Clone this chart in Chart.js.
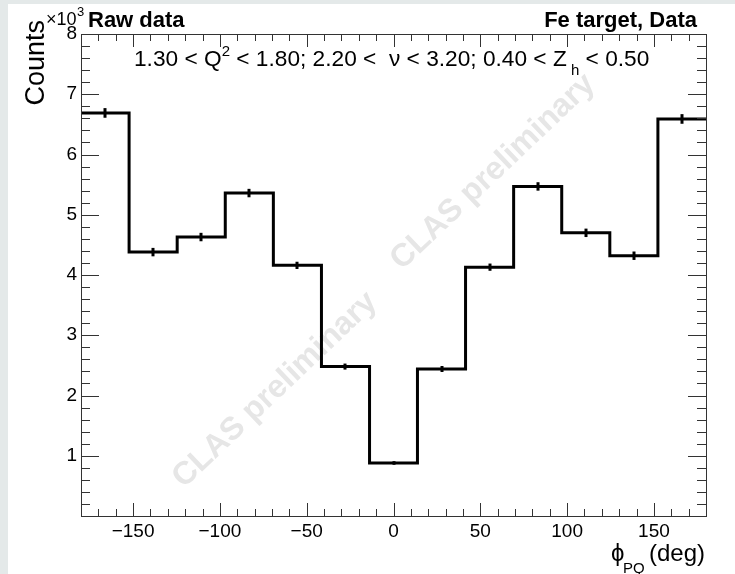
<!DOCTYPE html>
<html>
<head>
<meta charset="utf-8">
<script src="https://cdn.jsdelivr.net/npm/chart.js@4/dist/chart.umd.min.js"></script>
<style>
  html, body { margin: 0; padding: 0; background: #fff; }
  canvas { display: block; }
</style>
</head>
<body>
<canvas id="histChart" width="735" height="574"></canvas>
<script>
// phi_PQ bins (deg) and raw counts (x10^3)
const binEdges = [-180, -152.3, -124.6, -96.9, -69.2, -41.5, -13.8, 13.8, 41.5, 69.2, 96.9, 124.6, 152.3, 180];
const counts = [6.69, 4.38, 4.63, 5.36, 4.16, 2.48, 0.88, 2.44, 4.13, 5.47, 4.70, 4.32, 6.59];
const errors = [0.08, 0.07, 0.07, 0.07, 0.06, 0.05, 0.03, 0.05, 0.06, 0.07, 0.07, 0.07, 0.08];
const xTicks = [-150, -100, -50, 0, 50, 100, 150];
const yTicks = [1, 2, 3, 4, 5, 6, 7, 8];

const FONT = '"Liberation Sans", Arial, Helvetica, sans-serif';

const steps = binEdges.map((e, i) => ({ x: e, y: counts[Math.min(i, counts.length - 1)] }));

// ROOT-like frame, inner ticks, texts and watermark
const rootStyle = {
  id: 'rootStyle',
  beforeDraw(chart) {
    const c = chart.ctx;
    c.save();
    c.fillStyle = '#e4e9e9';
    c.fillRect(0, 0, chart.width, chart.height);
    c.fillStyle = '#ffffff';
    c.fillRect(8, 4, chart.width - 8, chart.height - 4);
    c.restore();
  },
  beforeDatasetsDraw(chart) {
    const c = chart.ctx;
    c.save();
    c.fillStyle = '#e6e6e6';
    c.font = 'bold 32px ' + FONT;
    c.textAlign = 'center';
    c.textBaseline = 'middle';
    [[275, 390], [493, 172]].forEach(p => {
      c.save();
      c.translate(p[0], p[1]);
      c.rotate(-43.5 * Math.PI / 180);
      c.fillText('CLAS preliminary', 0, 0);
      c.restore();
    });
    c.restore();
  },
  afterDatasetsDraw(chart) {
    const c = chart.ctx;
    const xs = chart.scales.x, ys = chart.scales.y;
    const a = chart.chartArea;

    // error bars
    c.save();
    c.strokeStyle = '#000';
    c.lineWidth = 3;
    counts.forEach((v, i) => {
      const px = Math.round(xs.getPixelForValue((binEdges[i] + binEdges[i + 1]) / 2));
      c.beginPath();
      c.moveTo(px, ys.getPixelForValue(v - errors[i]));
      c.lineTo(px, ys.getPixelForValue(v + errors[i]));
      c.stroke();
    });
    c.restore();

    // frame and ticks
    c.save();
    c.strokeStyle = '#333';
    c.lineWidth = 1;
    c.strokeRect(Math.round(a.left) + 0.5, Math.round(a.top) + 0.5, Math.round(a.right - a.left), Math.round(a.bottom - a.top));
    c.beginPath();
    for (let v = -180; v <= 180; v += 10) {
      const px = Math.round(xs.getPixelForValue(v)) + 0.5;
      const len = v % 50 === 0 ? 13 : 7;
      c.moveTo(px, a.bottom); c.lineTo(px, a.bottom - len);
      c.moveTo(px, a.top); c.lineTo(px, a.top + len);
    }
    for (let k = 0; k <= 40; k++) {
      const v = k * 0.2;
      const py = Math.round(ys.getPixelForValue(v)) + 0.5;
      const len = k % 5 === 0 ? 18 : 9;
      c.moveTo(a.left, py); c.lineTo(a.left + len, py);
      c.moveTo(a.right, py); c.lineTo(a.right - len, py);
    }
    c.stroke();
    c.restore();

    // texts
    c.save();
    c.fillStyle = '#000';
    c.textBaseline = 'alphabetic';

    c.font = 'bold 22px ' + FONT;
    c.textAlign = 'left';
    c.fillText('Raw data', 88, 27);
    c.textAlign = 'right';
    c.fillText('Fe target, Data', 697, 27);

    // y title
    c.save();
    c.translate(44, 20);
    c.rotate(-Math.PI / 2);
    c.font = '27px ' + FONT;
    c.textAlign = 'right';
    c.fillText('Counts', 0, 0);
    c.restore();

    // x10^3
    c.textAlign = 'left';
    c.font = '18px ' + FONT;
    c.fillText('\u00d710', 46, 25);
    c.font = '13px ' + FONT;
    c.fillText('3', 77, 16);

    // cut text
    let x = 134;
    const base = 66;
    const parts = [
      ['1.30 < Q', 22.7, 0],
      ['2', 15, -10],
      [' < 1.80; 2.20 <  \u03bd < 3.20; 0.40 < Z', 22.7, 0],
      [' h', 15, 9],
      [' < 0.50', 22.7, 0]
    ];
    parts.forEach(p => {
      c.font = p[1] + 'px ' + FONT;
      c.fillText(p[0], x, base + p[2]);
      x += c.measureText(p[0]).width;
    });

    // x title
    c.font = '24px ' + FONT;
    c.textAlign = 'right';
    c.fillText('(deg)', 705, 561);
    c.textAlign = 'left';
    c.fillText('\u03d5', 611, 561);
    c.font = '15px ' + FONT;
    c.fillText('PQ', 623, 573);
    c.restore();
  }
};

new Chart('histChart', {
  type: 'line',
  data: {
    datasets: [{
      data: steps,
      stepped: 'before',
      borderColor: '#000',
      borderWidth: 3,
      pointRadius: 0,
      fill: false
    }]
  },
  options: {
    responsive: false,
    animation: false,
    layout: { padding: { left: 20, top: 34, right: 29, bottom: 18 } },
    plugins: { legend: { display: false }, tooltip: { enabled: false } },
    scales: {
      x: {
        type: 'linear',
        min: -180,
        max: 180,
        afterFit: s => { s.height = 40; },
        afterBuildTicks: s => { s.ticks = xTicks.map(v => ({ value: v })); },
        grid: { display: false, drawTicks: false },
        border: { display: false },
        ticks: {
          padding: 4,
          color: '#000',
          font: { family: FONT, size: 19 },
          maxRotation: 0,
          callback: v => String(v).replace('-', '\u2212')
        }
      },
      y: {
        type: 'linear',
        min: 0,
        max: 8,
        afterFit: s => { s.width = 61; },
        afterBuildTicks: s => { s.ticks = yTicks.map(v => ({ value: v })); },
        grid: { display: false, drawTicks: false },
        border: { display: false },
        ticks: {
          padding: 4,
          color: '#000',
          font: { family: FONT, size: 19 }
        }
      }
    }
  },
  plugins: [rootStyle]
});
</script>
</body>
</html>
